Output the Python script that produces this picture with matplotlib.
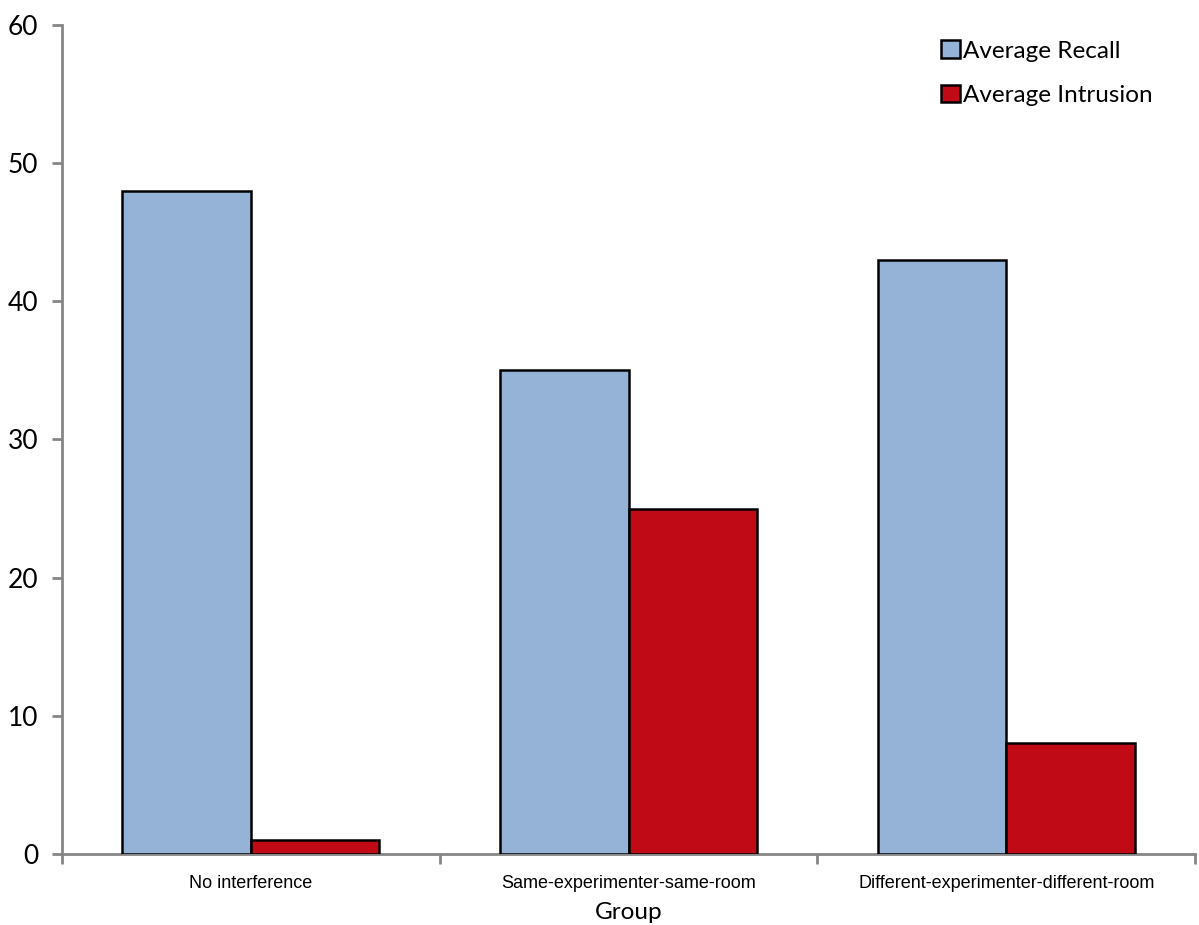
import numpy as np
import matplotlib.pyplot as plt

groups = ["No interference", "Same-experimenter-same-room", "Different-experimenter-different-room"]
recall = [48, 35, 43]
intrusion = [1, 25, 8]

blue = "#95b3d7"
red = "#c00a16"
axis_gray = "#868686"

fig = plt.figure(figsize=(11.99, 9.25), dpi=100)
ax = fig.add_axes([0.0517, 0.0768, 0.945, 0.8962])

x = np.arange(len(groups))
w = 0.34
ax.bar(x - w / 2, recall, w, color=blue, edgecolor="black", linewidth=1.8, label="Average Recall", zorder=3)
ax.bar(x + w / 2, intrusion, w, color=red, edgecolor="black", linewidth=1.8, label="Average Intrusion", zorder=3)

ax.set_xlim(-0.5, 2.5)
ax.set_ylim(0, 60)
ax.set_yticks(range(0, 61, 10))
ax.tick_params(axis="y", length=7, width=2, color=axis_gray, labelsize=19, pad=10)
for lbl in ax.get_yticklabels():
    lbl.set_family("Lato")

# category labels sit between boundary ticks
ax.set_xticks([-0.5, 0.5, 1.5, 2.5])
ax.set_xticklabels([])
ax.tick_params(axis="x", length=7, width=2, color=axis_gray)
ax.set_xticks(x, minor=True)
ax.set_xticklabels(groups, minor=True, family="Liberation Sans", fontsize=13)
ax.tick_params(axis="x", which="minor", length=0, pad=15)

for side in ["top", "right"]:
    ax.spines[side].set_visible(False)
for side in ["left", "bottom"]:
    ax.spines[side].set_color(axis_gray)
    ax.spines[side].set_linewidth(2)

ax.set_xlabel("Group", family="Lato", fontsize=17.5, labelpad=7)

ax.legend(loc="upper right", bbox_to_anchor=(0.982, 1.008), frameon=False,
          prop={"family": "Lato", "size": 17.5}, handlelength=0.75, handleheight=0.75,
          handletextpad=0.15, labelspacing=0.95)

fig.savefig("out.png", dpi=100)
